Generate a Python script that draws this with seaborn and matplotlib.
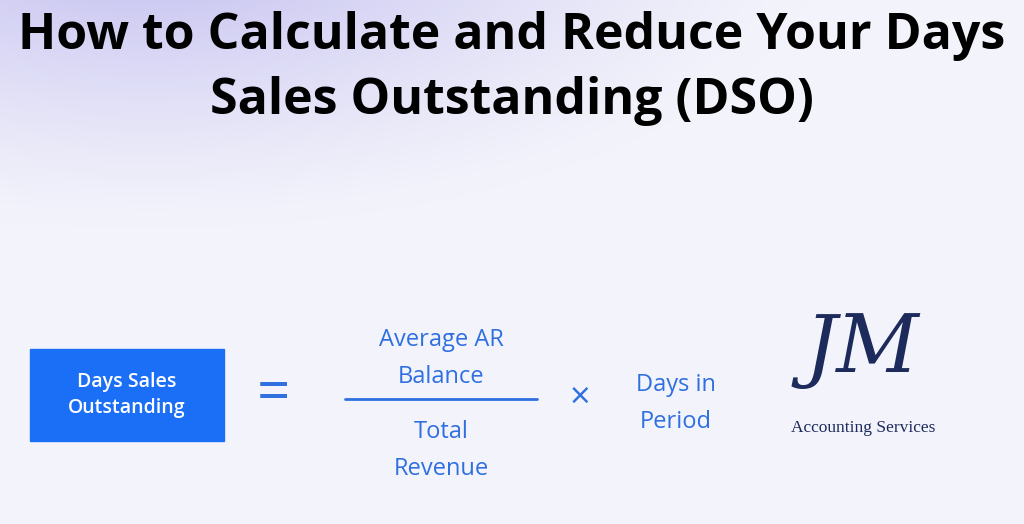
import numpy as np
import matplotlib.pyplot as plt
import seaborn as sns

sns.set_theme(style="white")
plt.rcParams['font.family'] = ['Open Sans', 'DejaVu Sans']

title_lines = ["How to Calculate and Reduce Your Days", "Sales Outstanding (DSO)"]
lhs_text = "Days Sales\nOutstanding"
numerator = ["Average AR", "Balance"]
denominator = ["Total", "Revenue"]
multiplier = ["Days in", "Period"]
logo_mark = "JM"
logo_text = "Accounting Services"

blue_box = "#1b6ff6"
blue_text = "#2f6fe0"
navy = "#1d2a5c"

fig = plt.figure(figsize=(10.24, 5.24), dpi=100)
ax = fig.add_axes([0, 0, 1, 1])
ax.set_xlim(0, 1024)
ax.set_ylim(524, 0)
ax.axis("off")

# soft lavender glow at the top left
yy, xx = np.mgrid[0:524, 0:1024]
d = np.sqrt(((xx - 150) / 700.0) ** 2 + ((yy + 60) / 300.0) ** 2)
w = np.clip(1 - d, 0, 1) ** 1.3
base = np.array([0.955, 0.96, 0.985])
tint = np.array([0.76, 0.74, 0.94])
img = base * (1 - w[..., None]) + tint * w[..., None]
ax.imshow(img, extent=[0, 1024, 524, 0], zorder=0, aspect="auto")

for i, line in enumerate(title_lines):
    ax.text(512, 36 + 65 * i, line, ha="center", va="center",
            fontsize=36, fontweight="bold", color="black")

ax.add_patch(plt.Rectangle((30, 349), 194, 92, color=blue_box, zorder=2))
ax.text(127, 395, lhs_text, ha="center", va="center", color="white",
        fontsize=14, fontweight="semibold", linespacing=1.35, zorder=3)

ax.text(273, 396, "=", ha="center", va="center", color=blue_text, fontsize=42)
kw = dict(ha="center", va="center", color=blue_text, fontsize=17, fontweight="medium")
ax.text(441, 340, numerator[0], **kw)
ax.text(441, 377, numerator[1], **kw)
ax.plot([345, 537], [399, 399], color=blue_text, lw=2)
ax.text(441, 432, denominator[0], **kw)
ax.text(441, 469, denominator[1], **kw)
ax.text(580, 399, "×", ha="center", va="center", color=blue_text, fontsize=26)
ax.text(676, 385, multiplier[0], **kw)
ax.text(676, 422, multiplier[1], **kw)

ax.text(862, 350, logo_mark, ha="center", va="center", color=navy, fontsize=58,
        family=["DejaVu Serif"], style="italic", fontweight="light")
ax.text(863, 428, logo_text, ha="center", va="center", color=navy, fontsize=12.5,
        family=["Liberation Serif"])

fig.savefig("out.png", dpi=100)
